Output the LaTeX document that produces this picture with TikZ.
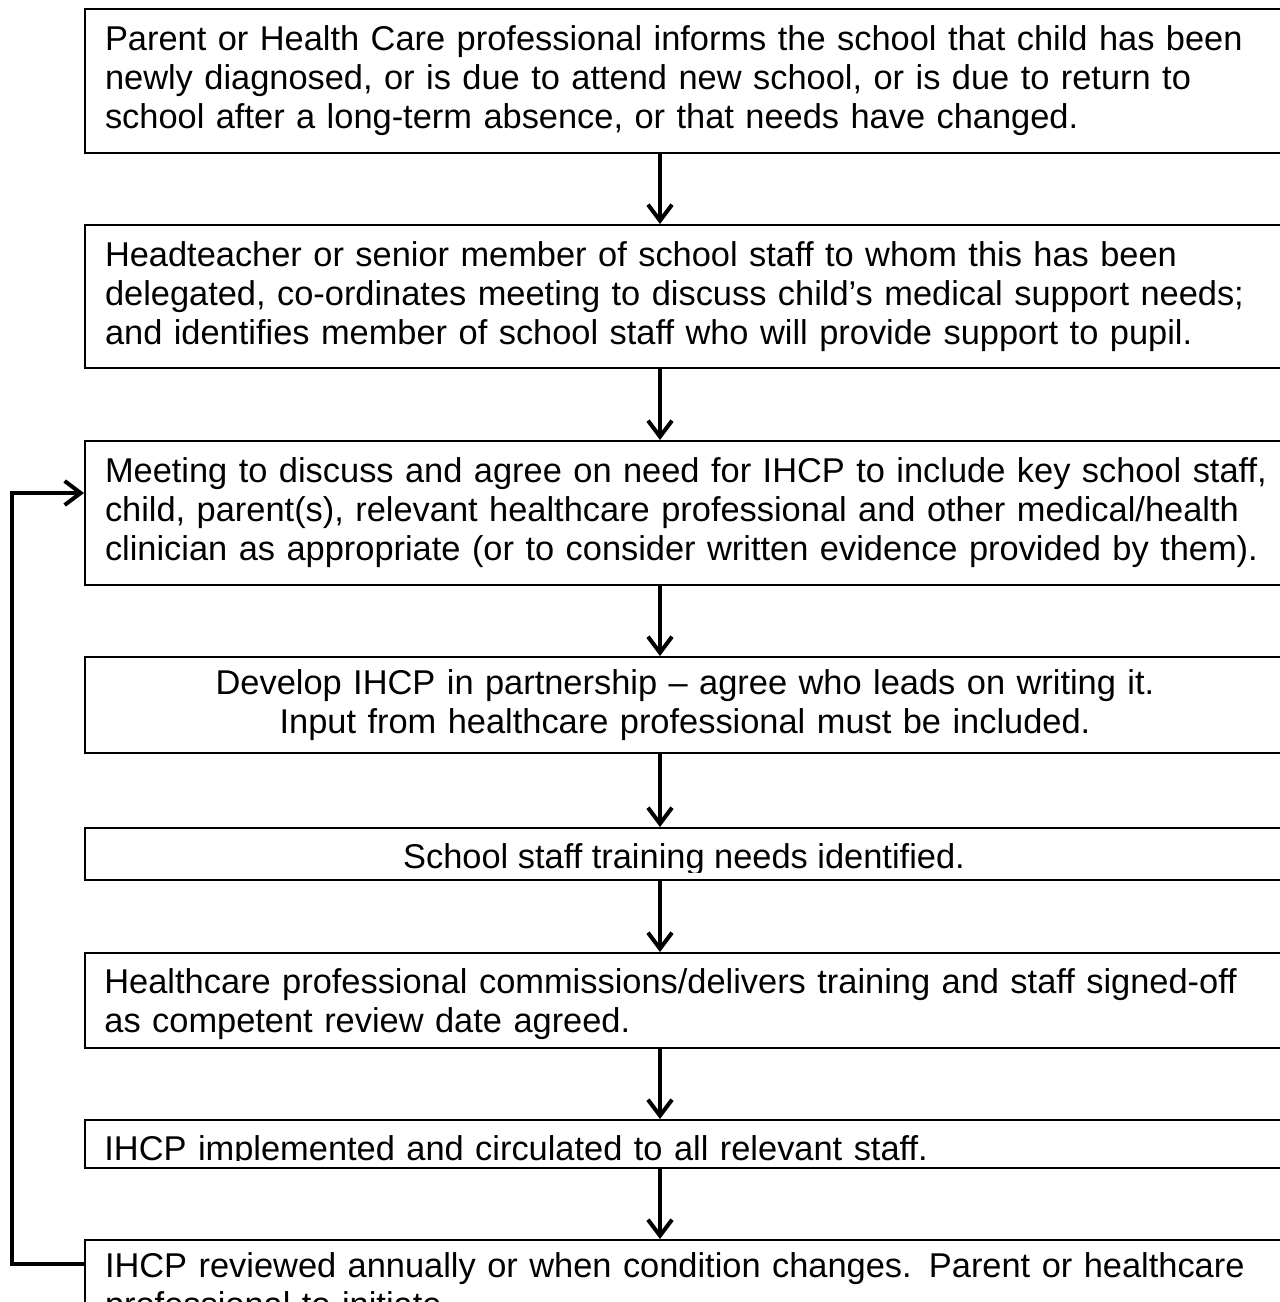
\documentclass[tikz,border=0pt]{standalone}
\usepackage{fontspec}
\setmainfont{Liberation Sans}
\usetikzlibrary{positioning,arrows.meta}
\newcommand{\boxfont}{\fontsize{17.2pt}{19.5pt}\selectfont}
\tikzset{
  stepbox/.style={draw, line width=1pt, rectangle, anchor=north west,
    inner xsep=10pt, inner ysep=0pt, text width=600pt, align=left, font=\boxfont},
  midbox/.style={stepbox, text width=580pt, align=center},
  cuttext/.style={font=\boxfont, inner sep=0pt, text width=600pt, align=left, anchor=base west},
  flow/.style={line width=2pt, -{Straight Barb[length=8pt,width=12pt]}}
}

\begin{document}
\begin{tikzpicture}[x=0.5pt,y=-0.5pt]
  % page frame
  \useasboundingbox (0,0) rectangle (1280,1302);
  \clip (0,0) rectangle (1280,1302);

  % Steps of the procedure
  \node[stepbox, minimum height=72pt] (inform) at (84,8)
    {Parent or Health Care professional informs the school that child has been\\
     newly diagnosed, or is due to attend new school, or is due to return to\\
     school after a long-term absence, or that needs have changed.};
  \node[stepbox, minimum height=71.5pt] (coord) at (84,224)
    {Headteacher or senior member of school staff to whom this has been\\
     delegated, co-ordinates meeting to discuss child’s medical support needs;\\
     and identifies member of school staff who will provide support to pupil.};
  \node[stepbox, minimum height=72pt] (meet) at (84,440)
    {Meeting to discuss and agree on need for IHCP to include key school staff,\\
     child, parent(s), relevant healthcare professional and other medical/health\\
     clinician as appropriate (or to consider written evidence provided by them).};
  \node[midbox, minimum height=48pt] (develop) at (84,656)
    {Develop IHCP in partnership – agree who leads on writing it.\\
     Input from healthcare professional must be included.};

  % Steps whose text is cut off at the bottom
  \node[midbox, minimum height=26pt] (train) at (84,827) {};
  \begin{scope}
    \clip (train.north west) rectangle ([yshift=4.5pt]train.south east);
    \node[font=\boxfont, inner sep=0pt, anchor=base] (traintext) at (684,868)
      {School staff training needs identified.};
  \end{scope}

  \node[stepbox, minimum height=47.5pt] (deliver) at (84,952) {};
  \begin{scope}
    \clip (deliver.north west) rectangle ([yshift=4.5pt]deliver.south east);
    \node[cuttext] (delivertext) at (104,993)
      {Healthcare professional commissions/delivers training and staff signed-off\\
       as competent review date agreed.};
  \end{scope}

  \node[stepbox, minimum height=24pt] (implement) at (84,1119) {};
  \begin{scope}
    \clip (implement.north west) rectangle ([yshift=4.5pt]implement.south east);
    \node[cuttext] (implementtext) at (104,1160)
      {IHCP implemented and circulated to all relevant staff.};
  \end{scope}

  \node[stepbox, minimum height=48pt] (review) at (84,1239)
    {IHCP reviewed annually or when condition changes. Parent or healthcare\\
     professional to initiate.};

  % Arrows between the steps
  \coordinate (ax) at (660,0);
  \foreach \a/\b in {inform/coord, coord/meet, meet/develop, develop/train,
                     train/deliver, deliver/implement, implement/review}
    \draw[flow] (\a.south -| ax) -- (\b.north -| ax);

  % Review goes back to the meeting
  \draw[flow] ([yshift=12pt]review.west) -- ++(-36pt,0) |- ([yshift=10pt]meet.west);
\end{tikzpicture}
\end{document}
